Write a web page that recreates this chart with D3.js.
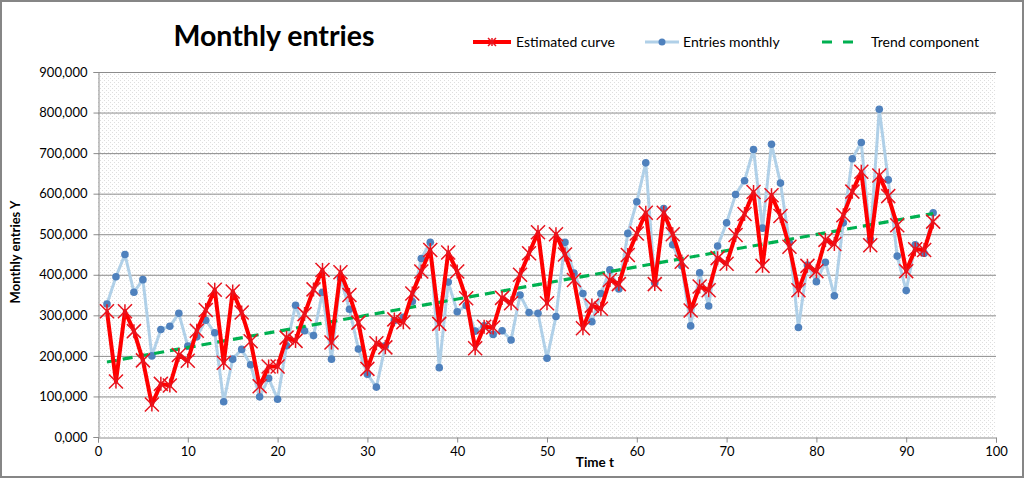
<!DOCTYPE html>
<html><head><meta charset="utf-8">
<script src="https://cdn.jsdelivr.net/npm/d3@7"></script>
<style>
html,body{margin:0;padding:0;background:#fff;}
svg{display:block;font-family:Lato, "Open Sans", sans-serif;}
</style></head>
<body><svg id="chart" width="1024" height="478"></svg>
<script>
const timeT = d3.range(1, 94);
const entriesMonthly = [328,395,450,357,388,200,265,273,305,224,247,288,257,87,192,216,178,99,145,93,
225,325,262,250,357,192,392,315,217,155,123,225,287,295,334,440,480,171,382,309,
324,261,274,253,262,239,350,307,305,194,297,480,404,354,284,354,412,365,502,580,
676,380,563,474,422,274,405,323,471,528,598,632,709,515,722,626,479,270,424,383,
431,348,528,686,726,488,808,634,446,361,474,453,553].map(v => v * 1000);
const estimatedCurve = [310,137,310,261,189,80,131,127,202,188,262,313,363,183,359,307,236,125,174,174,
245,237,303,364,412,233,406,350,282,168,231,221,290,283,354,408,461,279,455,408,
342,219,272,270,343,330,400,453,505,330,500,450,387,268,324,316,387,377,449,502,
553,377,553,500,432,312,371,362,441,427,498,550,604,422,596,545,469,362,422,409,
486,476,547,605,654,473,645,594,522,409,463,461,531].map(v => v * 1000);
const trendT = [1, 93];
const trendValues = [185000, 551000];
const xTicks = [0,10,20,30,40,50,60,70,80,90,100];
const yTicks = [0,100000,200000,300000,400000,500000,600000,700000,800000,900000];
const yTickLabels = ["0,000","100,000","200,000","300,000","400,000","500,000","600,000","700,000","800,000","900,000"];
const seriesNames = ["Estimated curve","Entries monthly","Trend component"];

const svg = d3.select("#chart");
const W = 1024, H = 478;
const m = {left: 98, right: 996, top: 72, bottom: 437};

// outer border
svg.append("rect").attr("x",1).attr("y",1).attr("width",W-2).attr("height",H-2)
  .attr("fill","#fff").attr("stroke","#868686").attr("stroke-width",2);

// dotted pattern
const defs = svg.append("defs");
const pat = defs.append("pattern").attr("id","dots").attr("patternUnits","userSpaceOnUse")
  .attr("width",4).attr("height",4);
pat.append("rect").attr("width",4).attr("height",4).attr("fill","#fff");
pat.append("rect").attr("x",0).attr("y",0).attr("width",1).attr("height",1).attr("fill","#dedede");
pat.append("rect").attr("x",2).attr("y",2).attr("width",1).attr("height",1).attr("fill","#dedede");

const x = d3.scaleLinear().domain([0,100]).range([m.left, m.right]);
const y = d3.scaleLinear().domain([0,900000]).range([m.bottom, m.top]);

svg.append("rect").attr("x",m.left).attr("y",m.top).attr("width",m.right-m.left).attr("height",m.bottom-m.top)
  .attr("fill","url(#dots)");

// gridlines
svg.append("g").selectAll("line").data(yTicks.slice(1)).join("line")
  .attr("x1",m.left).attr("x2",m.right).attr("y1",d=>y(d)+0.5).attr("y2",d=>y(d)+0.5)
  .attr("stroke","#8c8c8c").attr("stroke-width",1);

// axes
const yAxis = d3.axisLeft(y).tickValues(yTicks).tickSize(5).tickPadding(4)
  .tickFormat((d,i)=>yTickLabels[i]);
const gy = svg.append("g").attr("transform",`translate(${m.left+0.5},0)`).call(yAxis);
const xAxis = d3.axisBottom(x).tickValues(xTicks).tickSize(5).tickPadding(4);
const gx = svg.append("g").attr("transform",`translate(0,${m.bottom+0.5})`).call(xAxis);
[gx,gy].forEach(g=>{
  g.select(".domain").attr("stroke","#8c8c8c");
  g.selectAll(".tick line").attr("stroke","#8c8c8c");
  g.selectAll(".tick text").attr("fill","#000").style("font-size","13px").style("font-family","Lato, sans-serif");
});
gy.selectAll(".tick text").attr("dx","-2");

// series
const line = d3.line().x((d,i)=>x(timeT[i])).y(d=>y(d));
svg.append("path").datum(entriesMonthly).attr("d",line)
  .attr("fill","none").attr("stroke","#b0d0e8").attr("stroke-width",3).attr("stroke-linejoin","round");
svg.append("g").selectAll("circle").data(entriesMonthly).join("circle")
  .attr("cx",(d,i)=>x(timeT[i])).attr("cy",d=>y(d)).attr("r",3.8).attr("fill","#4f81bd");

const tline = d3.line().x((d,i)=>x(trendT[i])).y(d=>y(d));
svg.append("path").datum(trendValues).attr("d",tline)
  .attr("fill","none").attr("stroke","#00b050").attr("stroke-width",3.2).attr("stroke-dasharray","10,6");

svg.append("path").datum(estimatedCurve).attr("d",line)
  .attr("fill","none").attr("stroke","#ff0000").attr("stroke-width",4).attr("stroke-linejoin","round");

function star(g, cx, cy, s){
  const p = `M${cx-s},${cy-s}L${cx+s},${cy+s}M${cx-s},${cy+s}L${cx+s},${cy-s}M${cx},${cy-s}L${cx},${cy+s}`;
  g.append("path").attr("d",p).attr("stroke","#e8141e").attr("stroke-width",1.5).attr("fill","none");
}
const mg = svg.append("g");
estimatedCurve.forEach((v,i)=>star(mg, x(timeT[i]), y(v), 7));

// title
svg.append("text").attr("x",274).attr("y",46).attr("text-anchor","middle")
  .style("font-size","28.5px").style("font-weight","bold").text("Monthly entries");

// legend
const lg = svg.append("g").style("font-size","14px");
lg.append("line").attr("x1",473).attr("x2",511).attr("y1",42).attr("y2",42).attr("stroke","#ff0000").attr("stroke-width",4);
star(lg, 492, 42, 4);
lg.append("text").attr("x",516).attr("y",47).text(seriesNames[0]);
lg.append("line").attr("x1",645).attr("x2",679).attr("y1",42).attr("y2",42).attr("stroke","#b0d0e8").attr("stroke-width",3);
lg.append("circle").attr("cx",662).attr("cy",42).attr("r",3.5).attr("fill","#4f81bd");
lg.append("text").attr("x",683).attr("y",47).text(seriesNames[1]);
lg.append("line").attr("x1",822).attr("x2",858).attr("y1",42).attr("y2",42).attr("stroke","#00b050").attr("stroke-width",3.2).attr("stroke-dasharray","10,11");
lg.append("text").attr("x",871).attr("y",47).text(seriesNames[2]);

// axis titles
svg.append("text").attr("transform","translate(20,252) rotate(-90)").attr("text-anchor","middle")
  .style("font-size","13px").style("font-weight","bold").text("Monthly entries Y");
svg.append("text").attr("x",595).attr("y",467).attr("text-anchor","middle")
  .style("font-size","13.5px").style("font-weight","bold").text("Time t");
</script></body></html>
